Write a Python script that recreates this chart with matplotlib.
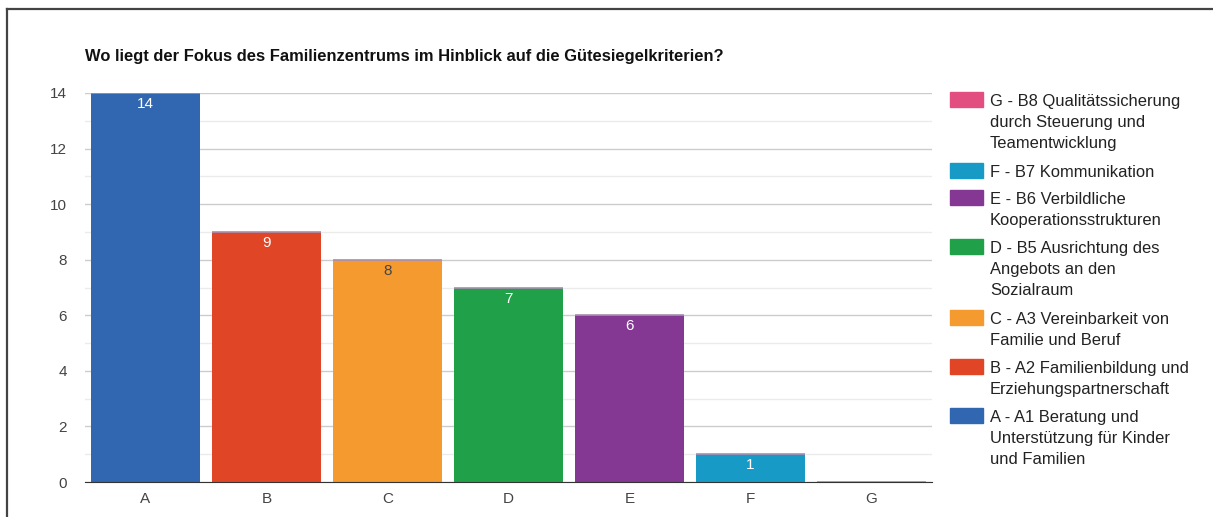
import numpy as np
import matplotlib.pyplot as plt
from matplotlib.patches import Rectangle
from matplotlib.lines import Line2D

plt.rcParams['font.family'] = ['Liberation Sans', 'DejaVu Sans']

categories = ["A", "B", "C", "D", "E", "F", "G"]
values = [14, 9, 8, 7, 6, 1, 0]
colors = ["#3166b0", "#e04526", "#f59a2f", "#21a04a", "#843894", "#189ac6", "#e24e7f"]
label_colors = ["white", "white", "#444444", "white", "white", "white", "white"]
legend_labels = [
    "A - A1 Beratung und\nUnterstützung für Kinder\nund Familien",
    "B - A2 Familienbildung und\nErziehungspartnerschaft",
    "C - A3 Vereinbarkeit von\nFamilie und Beruf",
    "D - B5 Ausrichtung des\nAngebots an den\nSozialraum",
    "E - B6 Verbildliche\nKooperationsstrukturen",
    "F - B7 Kommunikation",
    "G - B8 Qualitätssicherung\ndurch Steuerung und\nTeamentwicklung",
]
title = "Wo liegt der Fokus des Familienzentrums im Hinblick auf die Gütesiegelkriterien?"

W, H = 1213, 517
fig = plt.figure(figsize=(W / 100, H / 100), dpi=100)
ax = fig.add_axes([85 / W, 1 - 482 / H, (932 - 85) / W, (482 - 93) / H])

x = np.arange(len(categories))
ax.bar(x, values, width=0.9, color=colors, zorder=2)
# thin top caps (the empty stacked series on top)
for xi, v in zip(x, values):
    ax.plot([xi - 0.45, xi + 0.45], [v, v], color="#a88fb0", lw=1.2, zorder=3,
            solid_capstyle="butt")
for xi, v, lc in zip(x, values, label_colors):
    if v > 0:
        ax.annotate(str(v), (xi, v), xytext=(0, -3), textcoords="offset points",
                    ha="center", va="top", color=lc, fontsize=11, zorder=4)

ax.set_xlim(-0.5, len(categories) - 0.5)
ax.set_ylim(0, 14)
ax.set_yticks(range(0, 15, 2))
ax.set_yticks(range(1, 14, 2), minor=True)
ax.grid(axis="y", which="major", color="#cccccc", lw=1, zorder=0)
ax.grid(axis="y", which="minor", color="#ebebeb", lw=1, zorder=0)
ax.set_xticks(x)
ax.set_xticklabels(categories)
ax.tick_params(axis="both", which="both", length=0, labelsize=11, labelcolor="#444444")
ax.tick_params(axis="y", pad=13)
ax.tick_params(axis="x", pad=7)
for s in ["top", "right", "left"]:
    ax.spines[s].set_visible(False)
ax.spines["bottom"].set_color("#333333")
ax.spines["bottom"].set_zorder(5)

fig.text(85 / W, 1 - 57 / H, title, fontsize=11.9, fontweight="bold", color="#111111",
         ha="left", va="center")

# legend, drawn top to bottom: G ... A
line_h = 22
y = 100
for lab, col in list(zip(legend_labels, colors))[::-1]:
    fig.patches.append(Rectangle((950 / W, 1 - (y + 7) / H), 33 / W, 15 / H,
                                 transform=fig.transFigure, color=col, figure=fig))
    fig.text(990 / W, 1 - (y - 6) / H, lab, fontsize=11.9, color="#222222",
             ha="left", va="top", linespacing=1.48)
    y += line_h * (lab.count("\n") + 1) + 5

# screenshot frame
fig.add_artist(Line2D([7 / W, 1], [1 - 9 / H, 1 - 9 / H], transform=fig.transFigure,
                      color="#444444", lw=1.6))
fig.add_artist(Line2D([7 / W, 7 / W], [0, 1 - 9 / H], transform=fig.transFigure,
                      color="#444444", lw=1.6))

fig.savefig("out.png", dpi=100)
